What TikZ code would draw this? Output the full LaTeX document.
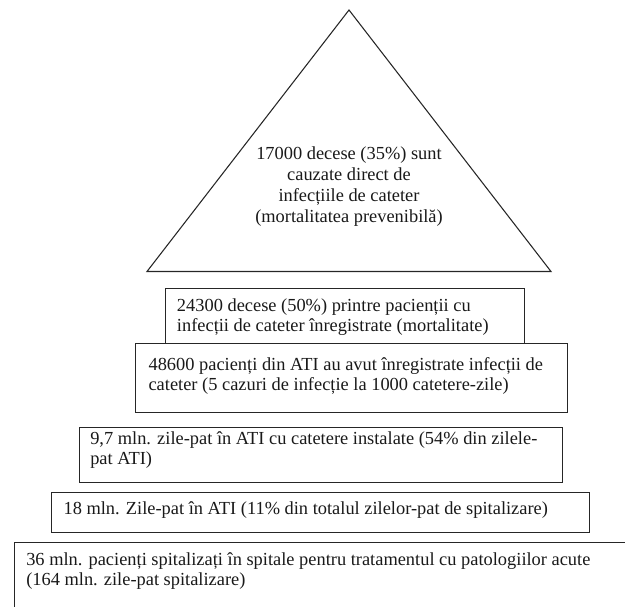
\documentclass[tikz,border=0pt]{standalone}
\usepackage{fontspec}
\setmainfont{Liberation Serif}
\begin{document}
\begin{tikzpicture}[x=0.75pt,y=-0.75pt,
  frame/.style={draw=black!85, line width=0.8pt},
  box/.style={frame, rectangle, inner sep=0pt, anchor=north west},
  label/.style={inner sep=0pt, anchor=north west, align=left, text=black!90,
    font=\fontsize{13.8}{15}\selectfont},
  toplabel/.style={inner sep=0pt, anchor=north, align=center, text=black!90,
    font=\fontsize{13.8}{15.8}\selectfont}]
\useasboundingbox (0,0) rectangle (625,607);
\clip (0,0) rectangle (625,607);

% pyramid top
\coordinate (apex) at (349,10);
\coordinate (bl) at (147,271.5);
\coordinate (br) at (551,271.5);
\draw[frame] (apex) -- (br) -- (bl) -- cycle;
\node[toplabel] (t0) at (349,144.5) {\strut 17000 decese (35\%) sunt\\cauzate direct de\\infecțiile de cateter\\(mortalitatea prevenibilă)};

% stacked levels
\node[box, minimum width=358.5*0.75pt, minimum height=55*0.75pt] (b1) at (165,288.3) {};
\node[box, minimum width=431.5*0.75pt, minimum height=68.5*0.75pt] (b2) at (135,343.3) {};
\node[box, minimum width=483*0.75pt, minimum height=55*0.75pt] (b3) at (79.3,426.7) {};
\node[box, minimum width=538.5*0.75pt, minimum height=40.5*0.75pt] (b4) at (50.7,491.8) {};
\node[box, minimum width=640*0.75pt, minimum height=100*0.75pt] (b5) at (14,542) {};

\node[label] (t1) at (176.7,297.7) {\strut 24300 decese (50\%) printre pacienții cu\\infecții de cateter înregistrate (mortalitate)};
\node[label] (t2) at (148.3,356) {\strut 48600 pacienți din ATI au avut înregistrate infecții de\\cateter (5 cazuri de infecție la 1000 catetere-zile)};
\node[label] (t3) at (90,430.3) {\strut 9,7 mln. zile-pat în ATI cu catetere instalate (54\% din zilele-\\pat ATI)};
\node[label] (t4) at (63.3,500) {\strut 18 mln. Zile-pat în ATI (11\% din totalul zilelor-pat de spitalizare)};
\node[label] (t5) at (26,551) {\strut 36 mln. pacienți spitalizați în spitale pentru tratamentul cu patologiilor acute\\(164 mln. zile-pat spitalizare)};
\end{tikzpicture}
\end{document}
